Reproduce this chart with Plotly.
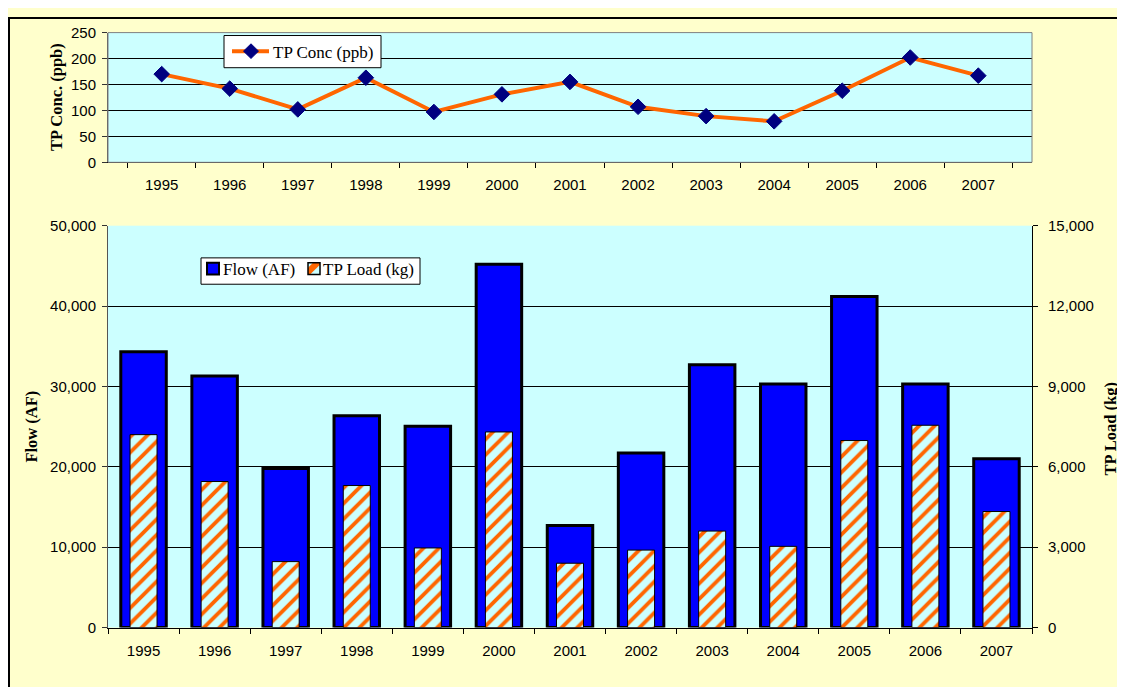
import plotly.graph_objects as go

years = ["1995", "1996", "1997", "1998", "1999", "2000", "2001",
         "2002", "2003", "2004", "2005", "2006", "2007"]
tp_conc = [170, 142, 102, 163, 97, 131, 155, 107, 89, 79, 138, 202, 167]
flow_af = [34300, 31300, 19800, 26350, 25050, 45200, 12700,
           21700, 32700, 30300, 41200, 30300, 21000]
tp_load = [7200, 5450, 2460, 5300, 2970, 7300, 2400,
           2890, 3600, 3030, 6980, 7550, 4330]

W, H = 1125, 687
OFF = 8  # page body margin offsets the figure by 8 px

def px(x):
    return (x - OFF) / W

def py(y):
    return 1 - (y - OFF) / H

SANS = "Liberation Sans"
SERIF = "Liberation Serif"
YELLOW = "#FFFFCC"
CYAN = "#CCFFFF"
ORANGE = "#FF6600"
NAVY = "#000080"
BLUE = "#0000FF"

fig = go.Figure()

fig.add_trace(go.Scatter(
    x=years, y=tp_conc, xaxis="x", yaxis="y", mode="lines+markers",
    name="TP Conc (ppb)", showlegend=False,
    line=dict(color=ORANGE, width=4),
    marker=dict(symbol="diamond", size=12, color=NAVY,
                line=dict(color=NAVY, width=1)),
))

fig.add_trace(go.Bar(
    x=years, y=flow_af, xaxis="x2", yaxis="y2", name="Flow (AF)",
    showlegend=False, width=0.64, offset=-0.32,
    marker=dict(color=BLUE, line=dict(color="#000000", width=3)),
))

fig.add_trace(go.Bar(
    x=years, y=tp_load, xaxis="x2", yaxis="y3", name="TP Load (kg)",
    showlegend=False, width=0.38, offset=-0.19,
    marker=dict(color=CYAN, line=dict(color="#000000", width=1),
                pattern=dict(shape="/", fgcolor=ORANGE, bgcolor=CYAN,
                             size=11, solidity=0.35, fillmode="replace")),
))

tickfont = dict(family=SANS, size=15, color="#000000")
xdom = [px(108), px(1032)]

fig.update_layout(
    width=W, height=H,
    margin=dict(l=0, r=0, t=0, b=0),
    paper_bgcolor=YELLOW,
    plot_bgcolor=CYAN,
    barmode="overlay",
    showlegend=False,
    xaxis=dict(domain=xdom, anchor="y", type="category",
               tickson="boundaries", ticks="outside", ticklen=5,
               tickcolor="#000000", showline=True, linecolor="#000000",
               linewidth=1, showgrid=False, tickfont=tickfont,
               ticklabelstandoff=9),
    yaxis=dict(domain=[py(157), py(24)], anchor="x", range=[0, 250],
               dtick=50, ticks="outside", ticklen=5, tickcolor="#333333",
               showline=True, linecolor="#555555", linewidth=1,
               showgrid=True, gridcolor="#000000", gridwidth=1,
               zeroline=False, tickfont=tickfont, ticklabelstandoff=3),
    xaxis2=dict(domain=xdom, anchor="y2", type="category",
                tickson="boundaries", ticks="outside", ticklen=5,
                tickcolor="#000000", showline=True, linecolor="#000000",
                linewidth=1, showgrid=False, tickfont=tickfont,
                ticklabelstandoff=9),
    yaxis2=dict(domain=[py(634), py(222)], anchor="x2", range=[0, 50000],
                dtick=10000, tickformat=",", ticks="outside", ticklen=5,
                tickcolor="#333333", showline=True, linecolor="#555555",
                linewidth=1, showgrid=True, gridcolor="#000000",
                gridwidth=1, zeroline=False, tickfont=tickfont,
                ticklabelstandoff=3),
    yaxis3=dict(overlaying="y2", side="right", anchor="x2",
                range=[0, 15000], dtick=3000, tickformat=",",
                ticks="outside", ticklen=5, tickcolor="#000000",
                showline=True, linecolor="#000000", linewidth=1,
                showgrid=False, zeroline=False, tickfont=tickfont,
                ticklabelstandoff=7),
)

# axis titles
title_font = dict(family=SERIF, size=16.5, color="#000000")
for txt, xx, yy in [("<b>TP Conc. (ppb)</b>", 57, 90),
                    ("<b>Flow (AF)</b>", 32, 428),
                    ("<b>TP Load (kg)</b>", 1111, 430)]:
    fig.add_annotation(text=txt, x=px(xx), y=py(yy), xref="paper",
                       yref="paper", xanchor="center", yanchor="middle",
                       showarrow=False, textangle=-90, font=title_font)

shapes = []
# gray border of top plot area
shapes.append(dict(type="rect", xref="x domain", yref="y domain",
                   x0=0, x1=1, y0=0, y1=1,
                   line=dict(color="#808080", width=1), layer="above"))
# outer chart frame (top and left edges)
shapes.append(dict(type="line", xref="paper", yref="paper", x0=px(9),
                   x1=px(9), y0=0, y1=1, line=dict(color="#000000", width=2),
                   layer="above"))
shapes.append(dict(type="line", xref="paper", yref="paper", x0=0, x1=1,
                   y0=py(9), y1=py(9), line=dict(color="#000000", width=2),
                   layer="above"))

legend_font = dict(family=SERIF, size=17, color="#000000")

# --- legend of the top chart ---
shapes.append(dict(type="rect", xref="paper", yref="paper",
                   x0=px(224), x1=px(381), y0=py(60), y1=py(27),
                   fillcolor="#FFFFFF", line=dict(color="#000000", width=1),
                   layer="above"))
shapes.append(dict(type="line", xref="paper", yref="paper",
                   x0=px(232), x1=px(269), y0=py(43), y1=py(43),
                   line=dict(color=ORANGE, width=4), layer="above"))
cx, cy, r = 251, 43, 7.5
shapes.append(dict(type="path", xref="paper", yref="paper",
                   path=(f"M {px(cx - r)},{py(cy)} L {px(cx)},{py(cy - r)} "
                         f"L {px(cx + r)},{py(cy)} L {px(cx)},{py(cy + r)} Z"),
                   fillcolor=NAVY, line=dict(color=NAVY, width=1),
                   layer="above"))
fig.add_annotation(text="TP Conc (ppb)", x=px(271), y=py(44), xref="paper",
                   yref="paper", xanchor="left", yanchor="middle",
                   showarrow=False, font=legend_font)

# --- legend of the bottom chart ---
shapes.append(dict(type="rect", xref="paper", yref="paper",
                   x0=px(201), x1=px(420), y0=py(282), y1=py(255),
                   fillcolor="#FFFFFF", line=dict(color="#000000", width=1),
                   layer="above"))
shapes.append(dict(type="rect", xref="paper", yref="paper",
                   x0=px(207), x1=px(219), y0=py(272), y1=py(260),
                   fillcolor=BLUE, line=dict(color="#000000", width=2),
                   layer="above"))
fig.add_annotation(text="Flow (AF)", x=px(221), y=py(267), xref="paper",
                   yref="paper", xanchor="left", yanchor="middle",
                   showarrow=False, font=legend_font)
shapes.append(dict(type="rect", xref="paper", yref="paper",
                   x0=px(308), x1=px(320), y0=py(272), y1=py(260),
                   fillcolor=CYAN, line=dict(width=0), layer="above"))
shapes.append(dict(type="path", xref="paper", yref="paper",
                   path=(f"M {px(308)},{py(272)} L {px(308)},{py(265)} "
                         f"L {px(313)},{py(260)} L {px(320)},{py(260)} "
                         f"L {px(320)},{py(262)} L {px(310)},{py(272)} Z"),
                   fillcolor=ORANGE, line=dict(width=0), layer="above"))
shapes.append(dict(type="rect", xref="paper", yref="paper",
                   x0=px(308), x1=px(320), y0=py(272), y1=py(260),
                   line=dict(color="#000000", width=1.5), layer="above"))
fig.add_annotation(text="TP Load (kg)", x=px(321), y=py(267), xref="paper",
                   yref="paper", xanchor="left", yanchor="middle",
                   showarrow=False, font=legend_font)

fig.update_layout(shapes=shapes)

fig.write_html("out.html")
